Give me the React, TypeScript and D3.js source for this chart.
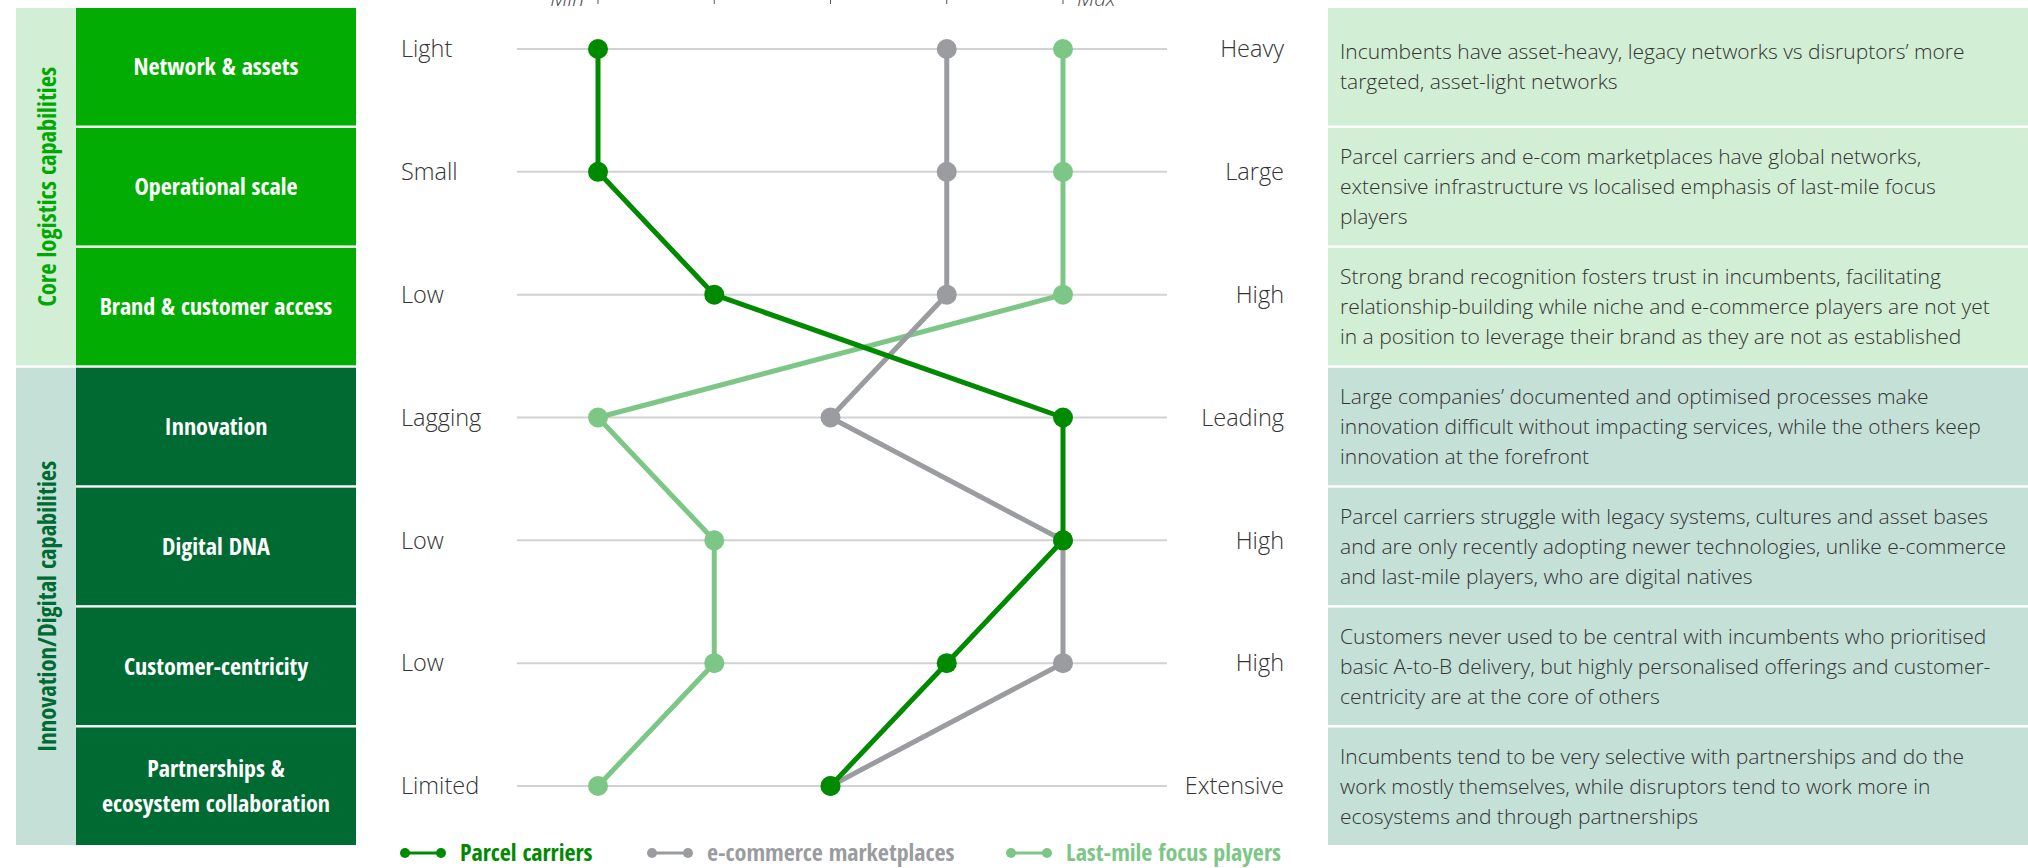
import React from "react";
import * as d3 from "d3";

// capability rows, top to bottom
const categories = [
  "Network & assets",
  "Operational scale",
  "Brand & customer access",
  "Innovation",
  "Digital DNA",
  "Customer-centricity",
  "Partnerships & ecosystem collaboration",
];
const categoryLines = [
  ["Network & assets"],
  ["Operational scale"],
  ["Brand & customer access"],
  ["Innovation"],
  ["Digital DNA"],
  ["Customer-centricity"],
  ["Partnerships &", "ecosystem collaboration"],
];
const groups = [
  { name: "Core logistics capabilities", from: 0, to: 2 },
  { name: "Innovation/Digital capabilities", from: 3, to: 6 },
];
const minLabels = ["Light", "Small", "Low", "Lagging", "Low", "Low", "Limited"];
const maxLabels = ["Heavy", "Large", "High", "Leading", "High", "High", "Extensive"];

// scores on a 1 (min) .. 5 (max) scale
const parcelCarriers = [1, 1, 2, 5, 5, 4, 3];
const ecommerceMarketplaces = [4, 4, 4, 3, 5, 5, 3];
const lastMilePlayers = [5, 5, 5, 1, 2, 2, 1];
const scoreTicks = [1, 2, 3, 4, 5];

const commentary = [
  ["Incumbents have asset-heavy, legacy networks vs disruptors’ more", "targeted, asset-light networks"],
  [
    "Parcel carriers and e-com marketplaces have global networks,",
    "extensive infrastructure vs localised emphasis of last-mile focus",
    "players",
  ],
  [
    "Strong brand recognition fosters trust in incumbents, facilitating",
    "relationship-building while niche and e-commerce players are not yet",
    "in a position to leverage their brand as they are not as established",
  ],
  [
    "Large companies’ documented and optimised processes make",
    "innovation difficult without impacting services, while the others keep",
    "innovation at the forefront",
  ],
  [
    "Parcel carriers struggle with legacy systems, cultures and asset bases",
    "and are only recently adopting newer technologies, unlike e-commerce",
    "and last-mile players, who are digital natives",
  ],
  [
    "Customers never used to be central with incumbents who prioritised",
    "basic A-to-B delivery, but highly personalised offerings and customer-",
    "centricity are at the core of others",
  ],
  [
    "Incumbents tend to be very selective with partnerships and do the",
    "work mostly themselves, while disruptors tend to work more in",
    "ecosystems and through partnerships",
  ],
];

const series = [
  { name: "Last-mile focus players", values: lastMilePlayers, color: "#7cc785" },
  { name: "e-commerce marketplaces", values: ecommerceMarketplaces, color: "#9a9ca0" },
  { name: "Parcel carriers", values: parcelCarriers, color: "#008a00" },
];
const legendOrder = ["Parcel carriers", "e-commerce marketplaces", "Last-mile focus players"];

const W = 2028;
const H = 868;
const condensed = "'Open Sans Condensed', 'Liberation Sans Narrow', 'DejaVu Sans Condensed', 'Roboto Condensed', sans-serif";
const light = "'Open Sans', 'Noto Sans', sans-serif";

export default function App() {
  const idx = categories.map((_, i) => i);

  // rows (boxes on the left and commentary on the right)
  const rows = d3.scaleBand<number>().domain(idx).range([8, 845]).paddingInner(0.02);
  // chart y positions
  const y = d3.scalePoint<number>().domain(idx).range([49, 786]);
  const x = d3.scaleLinear().domain([1, 5]).range([598, 1063]);

  const line = d3
    .line<number>()
    .x((d) => x(d))
    .y((_, i) => y(i) as number);

  const groupFill = (g: number) => (g === 0 ? "#d2eed4" : "#c4e0d7");
  const boxFill = (i: number) => (i <= 2 ? "#02ac02" : "#006a33");
  const groupText = (g: number) => (g === 0 ? "#02a802" : "#006a33");

  const legendX = [403, 650, 1009];
  const legendY = 853;

  return (
    <div style={{ position: "absolute", left: 0, top: 0 }}>
      <svg width={W} height={H} style={{ display: "block" }}>
        {/* group strips */}
        {groups.map((g, gi) => {
          const y0 = rows(g.from) as number;
          const y1 = (rows(g.to) as number) + rows.bandwidth();
          const cy = (y0 + y1) / 2;
          return (
            <g key={g.name}>
              <rect x={16} y={y0} width={60} height={y1 - y0} fill={groupFill(gi)} />
              <text
                transform={`translate(46,${cy}) rotate(-90)`}
                textAnchor="middle"
                dominantBaseline="central"
                fontFamily={condensed}
                fontWeight={700}
                fontSize={24.5}
                fill={groupText(gi)}
              >
                {g.name}
              </text>
            </g>
          );
        })}

        {/* category boxes */}
        {idx.map((i) => {
          const y0 = rows(i) as number;
          const cy = y0 + rows.bandwidth() / 2;
          const lines = categoryLines[i];
          return (
            <g key={"box" + i}>
              <rect x={76} y={y0} width={280} height={rows.bandwidth()} fill={boxFill(i)} />
              <text textAnchor="middle" fontFamily={condensed} fontWeight={700} fontSize={24} fill="#fff">
                {lines.map((l, k) => (
                  <tspan key={k} x={216} y={cy + (k - (lines.length - 1) / 2) * 35} dy="0.35em">
                    {l}
                  </tspan>
                ))}
              </text>
            </g>
          );
        })}

        {/* top min/max scale */}
        {scoreTicks.map((t) => (
          <line key={"t" + t} x1={x(t)} x2={x(t)} y1={-4} y2={4} stroke="#555" strokeWidth={1} />
        ))}
        <text x={x(1) - 14} y={6} textAnchor="end" fontFamily={light} fontStyle="italic" fontWeight={300} fontSize={21} fill="#444">
          Min
        </text>
        <text x={x(5) + 14} y={6} textAnchor="start" fontFamily={light} fontStyle="italic" fontWeight={300} fontSize={21} fill="#444">
          Max
        </text>

        {/* grid lines and end labels */}
        {idx.map((i) => (
          <g key={"grid" + i}>
            <line x1={517} x2={1167} y1={y(i)} y2={y(i)} stroke="#d2d2d2" strokeWidth={2} />
            <text x={401} y={y(i)} dy="0.35em" fontFamily={light} fontWeight={300} fontSize={23.5} fill="#333">
              {minLabels[i]}
            </text>
            <text x={1284} y={y(i)} dy="0.35em" textAnchor="end" fontFamily={light} fontWeight={300} fontSize={23.5} fill="#333">
              {maxLabels[i]}
            </text>
          </g>
        ))}

        {/* series */}
        {series.map((s) => (
          <g key={s.name}>
            <path d={line(s.values) || ""} fill="none" stroke={s.color} strokeWidth={5} strokeLinejoin="round" />
            {s.values.map((v, i) => (
              <circle key={i} cx={x(v)} cy={y(i)} r={10} fill={s.color} />
            ))}
          </g>
        ))}

        {/* legend */}
        {legendOrder.map((name, k) => {
          const s = series.find((d) => d.name === name)!;
          const lx = legendX[k];
          return (
            <g key={"lg" + name}>
              <line x1={lx} x2={lx + 40} y1={legendY} y2={legendY} stroke={s.color} strokeWidth={3} />
              <circle cx={lx + 2} cy={legendY} r={5} fill={s.color} />
              <circle cx={lx + 38} cy={legendY} r={5} fill={s.color} />
              <text x={lx + 57} y={legendY} dy="0.35em" fontFamily={condensed} fontWeight={700} fontSize={24} fill={s.color}>
                {name}
              </text>
            </g>
          );
        })}

        {/* commentary panel */}
        {idx.map((i) => {
          const y0 = rows(i) as number;
          const cy = y0 + rows.bandwidth() / 2;
          const lines = commentary[i];
          return (
            <g key={"c" + i}>
              <rect x={1328} y={y0} width={W - 1328} height={rows.bandwidth()} fill={i <= 2 ? "#d2eed4" : "#c4e0d7"} />
              <text fontFamily={light} fontWeight={300} fontSize={21} fill="#333">
                {lines.map((l, k) => (
                  <tspan key={k} x={1340} y={cy + (k - (lines.length - 1) / 2) * 30} dy="0.35em">
                    {l}
                  </tspan>
                ))}
              </text>
            </g>
          );
        })}
      </svg>
    </div>
  );
}
